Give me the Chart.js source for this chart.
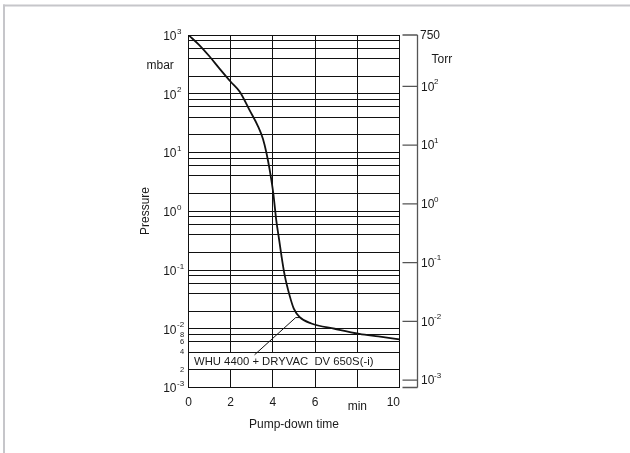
<!DOCTYPE html>
<html><head><meta charset="utf-8">
<script src="https://cdn.jsdelivr.net/npm/chart.js@4.4.0/dist/chart.umd.min.js"></script>
<style>html,body{margin:0;padding:0;background:#fff;}#wrap{width:630px;height:453px;}</style>
</head><body><div id="wrap"><canvas id="c" width="630" height="453"></canvas></div>
<script>
// ---- data ----
const timeMin      = [0, 0.5, 1.0, 1.5, 2.0, 2.43, 2.9, 3.3, 3.53, 3.69, 3.85, 4.02, 4.16, 4.3, 4.4, 4.56, 4.79, 4.99, 5.27, 5.82, 6.93, 8.1, 9.0, 10];
const pressureMbar = [1000, 680, 430, 260, 160, 108, 52, 27.6, 17, 10, 5, 2.0, 0.70, 0.32, 0.18, 0.081, 0.037, 0.022, 0.0158, 0.0123, 0.0100, 0.0082, 0.0074, 0.0066];
const leaderTime     = [3.13, 5.08, 5.3];
const leaderPressure = [0.0036, 0.0155, 0.0155];
const curveLabel = 'WHU 4400 + DRYVAC  DV 650S(-i)';
const xTickValues = [0, 2, 4, 6, 8, 10];
const xTickLabels = ['0', '2', '4', '6', 'min', '10'];
const yGridValues = [0.001,0.002,0.004,0.006,0.008, 0.01,0.02,0.04,0.06,0.08, 0.1,0.2,0.4,0.6,0.8, 1,2,4,6,8, 10,20,40,60,80, 100,200,400,600,800, 1000];
const yDecadeExponents = [3, 2, 1, 0, -1, -2, -3];
const yMinorValues = [0.008, 0.006, 0.004, 0.002];
const yMinorLabels = ['8', '6', '4', '2'];
const torrTickValues = [750, 100, 10, 1, 0.1, 0.01, 0.001, 0.00075];
const torrTickLabels = ['750', '10|2', '10|1', '10|0', '10|-1', '10|-2', '10|-3', ''];
const MBAR_PER_TORR = 1.33322;
const boxRange = [0.004, 0.002];

const FONT = '"Liberation Sans", Arial, Helvetica, sans-serif';
const INK = '#1a1a1a';
function al(p){ return Math.round(p - 0.5) + 0.5; }

const decor = {
  id: 'decor',
  beforeDraw(chart){
    const ctx = chart.ctx;
    ctx.save();
    ctx.fillStyle = '#fff';
    ctx.fillRect(0, 0, chart.width, chart.height);
    ctx.fillStyle = '#c6c6ca';
    ctx.fillRect(3, 4.5, 627, 2);
    ctx.fillRect(3, 4.5, 2, 449);
    ctx.restore();
  },
  beforeDatasetsDraw(chart){
    const ctx = chart.ctx, xs = chart.scales.x, ys = chart.scales.y;
    const a4 = al(ys.getPixelForValue(boxRange[0])), a2 = al(ys.getPixelForValue(boxRange[1]));
    const aL = al(xs.getPixelForValue(xs.min)), aR = al(xs.getPixelForValue(xs.max));
    ctx.save();
    ctx.fillStyle = '#fff';
    ctx.fillRect(aL + 0.5, a4 + 0.5, aR - aL - 1, a2 - a4 - 1);
    ctx.fillStyle = INK;
    ctx.font = '11.3px ' + FONT;
    ctx.textAlign = 'left';
    ctx.textBaseline = 'middle';
    ctx.fillText(curveLabel, aL + 5.5, (a4 + a2) / 2 + 0.5);
    ctx.restore();
  },
  afterDraw(chart){
    const ctx = chart.ctx, xs = chart.scales.x, ys = chart.scales.y;
    ctx.save();
    ctx.fillStyle = INK;
    ctx.textBaseline = 'middle';
    // left decade labels
    yDecadeExponents.forEach(e => {
      const py = ys.getPixelForValue(Math.pow(10, e));
      ctx.font = '12px ' + FONT; ctx.textAlign = 'right';
      ctx.fillText('10', 176.5, py + 1.5);
      ctx.font = '8px ' + FONT; ctx.textAlign = 'left';
      ctx.fillText(String(e), 177, py - 3.5);
    });
    // small minor labels
    ctx.font = '7.5px ' + FONT; ctx.textAlign = 'center';
    yMinorValues.forEach((v, i) => {
      ctx.fillText(yMinorLabels[i], 182, ys.getPixelForValue(v));
    });
    // x labels
    xTickValues.forEach((v, i) => {
      const px = xs.getPixelForValue(v);
      ctx.font = '12px ' + FONT;
      const lab = xTickLabels[i];
      if (lab === 'min') { ctx.textAlign = 'center'; ctx.fillText(lab, px, 406.5); }
      else if (i === xTickValues.length - 1) { ctx.textAlign = 'right'; ctx.fillText(lab, px + 0.5, 402.5); }
      else { ctx.textAlign = 'center'; ctx.fillText(lab, px, 402.5); }
    });
    // titles
    ctx.font = '12px ' + FONT;
    ctx.textAlign = 'center';
    ctx.fillText('Pump-down time', 294, 425);
    ctx.textAlign = 'left';
    ctx.fillText('mbar', 146.5, 65.5);
    ctx.save();
    ctx.translate(146, 211);
    ctx.rotate(-Math.PI / 2);
    ctx.textAlign = 'center';
    ctx.fillText('Pressure', 0, 0);
    ctx.restore();
    // right Torr axis
    const axX = 417.5, tk0 = 402.5;
    const yTop = ys.getPixelForValue(torrTickValues[0] * MBAR_PER_TORR);
    const yBot = ys.getPixelForValue(torrTickValues[torrTickValues.length - 1] * MBAR_PER_TORR);
    ctx.strokeStyle = '#555';
    ctx.lineWidth = 1.3;
    ctx.beginPath();
    ctx.moveTo(axX, yTop); ctx.lineTo(axX, yBot);
    torrTickValues.forEach(t => {
      const py = ys.getPixelForValue(t * MBAR_PER_TORR);
      ctx.moveTo(tk0, py); ctx.lineTo(axX, py);
    });
    ctx.stroke();
    torrTickLabels.forEach((lab, i) => {
      if (!lab) return;
      const py = ys.getPixelForValue(torrTickValues[i] * MBAR_PER_TORR);
      if (lab.indexOf('|') < 0) {
        ctx.font = '12px ' + FONT; ctx.textAlign = 'left';
        ctx.fillText(lab, 420, py + 0.5);
      } else {
        const [b, ex] = lab.split('|');
        ctx.font = '12px ' + FONT; ctx.textAlign = 'left';
        ctx.fillText(b, 421, py + 1);
        ctx.font = '8px ' + FONT;
        ctx.fillText(ex, 434, py - 4.5);
      }
    });
    ctx.font = '12px ' + FONT; ctx.textAlign = 'left';
    ctx.fillText('Torr', 431.5, 60);
    ctx.restore();
  }
};

new Chart(document.getElementById('c'), {
  type: 'line',
  data: {
    datasets: [
      {
        data: timeMin.map((t, i) => ({ x: t, y: pressureMbar[i] })),
        borderColor: '#111', borderWidth: 1.8, pointRadius: 0, fill: false,
        cubicInterpolationMode: 'monotone'
      },
      {
        data: leaderTime.map((t, i) => ({ x: t, y: leaderPressure[i] })),
        borderColor: '#111', borderWidth: 1, pointRadius: 0, fill: false, tension: 0
      }
    ]
  },
  options: {
    responsive: false,
    animation: false,
    events: [],
    layout: { padding: { left: 188.5, top: 35, right: 230.5, bottom: 65.5 } },
    plugins: { legend: { display: false }, tooltip: { enabled: false } },
    scales: {
      x: {
        type: 'linear', min: 0, max: 10,
        afterBuildTicks: s => { s.ticks = xTickValues.map(v => ({ value: v })); },
        ticks: { display: false },
        grid: { color: '#111', lineWidth: 1, drawTicks: false },
        border: { display: true, color: '#111', width: 1 }
      },
      y: {
        type: 'logarithmic', min: 0.001, max: 1000,
        afterBuildTicks: s => { s.ticks = yGridValues.map(v => ({ value: v })); },
        ticks: { display: false },
        grid: { color: '#111', lineWidth: 1, drawTicks: false },
        border: { display: true, color: '#111', width: 1 }
      }
    }
  },
  plugins: [decor]
});
</script>
</body></html>
